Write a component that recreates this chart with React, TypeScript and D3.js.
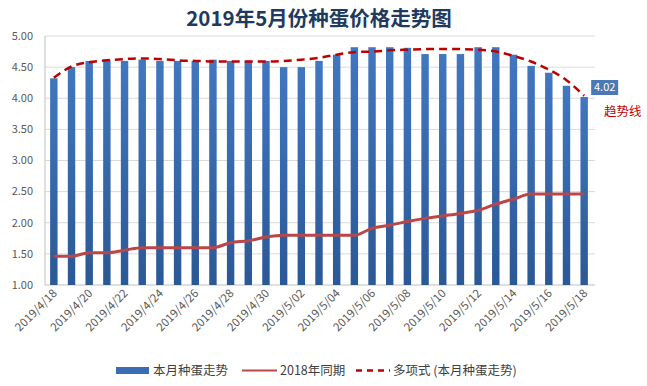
import React from "react";
import * as d3 from "d3";

const dates: string[] = [
  "2019/4/18", "2019/4/19", "2019/4/20", "2019/4/21", "2019/4/22", "2019/4/23", "2019/4/24",
  "2019/4/25", "2019/4/26", "2019/4/27", "2019/4/28", "2019/4/29", "2019/4/30",
  "2019/5/01", "2019/5/02", "2019/5/03", "2019/5/04", "2019/5/05", "2019/5/06", "2019/5/07",
  "2019/5/08", "2019/5/09", "2019/5/10", "2019/5/11", "2019/5/12", "2019/5/13", "2019/5/14",
  "2019/5/15", "2019/5/16", "2019/5/17", "2019/5/18",
];

const thisMonth: number[] = [
  4.32, 4.5, 4.6, 4.62, 4.6, 4.62, 4.6, 4.6, 4.6, 4.62, 4.6, 4.6, 4.6, 4.5, 4.5, 4.6,
  4.7, 4.82, 4.82, 4.82, 4.81, 4.71, 4.71, 4.71, 4.82, 4.82, 4.7, 4.52, 4.41, 4.2, 4.02,
];

const lastYear: number[] = [
  1.46, 1.46, 1.52, 1.52, 1.56, 1.6, 1.6, 1.6, 1.6, 1.6, 1.68, 1.71, 1.77, 1.8, 1.8, 1.8,
  1.8, 1.8, 1.91, 1.96, 2.02, 2.07, 2.11, 2.15, 2.2, 2.3, 2.38, 2.46, 2.46, 2.46, 2.46,
];

const trend: number[] = [
  4.33, 4.51, 4.58, 4.61, 4.63, 4.64, 4.63, 4.61, 4.6, 4.59, 4.59, 4.59, 4.59, 4.6, 4.62, 4.65,
  4.7, 4.74, 4.75, 4.77, 4.78, 4.79, 4.79, 4.79, 4.78, 4.75, 4.68, 4.59, 4.46, 4.29, 4.04,
];

const yTicks: number[] = [1, 1.5, 2, 2.5, 3, 3.5, 4, 4.5, 5];

const title = "2019年5月份种蛋价格走势图";
const legendLabels: string[] = ["本月种蛋走势", "2018年同期", "多项式 (本月种蛋走势)"];
const lastLabel = "4.02";
const trendNote = "趋势线";

const W = 647;
const H = 386;
const FONT = "'Noto Sans CJK SC', 'Noto Sans', sans-serif";

export default function App() {
  const x = d3
    .scaleBand<string>()
    .domain(dates)
    .range([45, 593])
    .paddingInner(0.58)
    .paddingOuter(0.29);
  const y = d3.scaleLinear().domain([1, 5]).range([285, 36]);
  const cx = (i: number) => (x(dates[i]) as number) + x.bandwidth() / 2;

  const line2018 = d3
    .line<number>()
    .x((_, i) => cx(i))
    .y((d) => y(d))
    .curve(d3.curveMonotoneX);
  const trendLine = d3
    .line<number>()
    .x((_, i) => cx(i))
    .y((d) => y(d))
    .curve(d3.curveNatural);

  const lastX = cx(dates.length - 1);

  return (
    <svg
      width={W}
      height={H}
      style={{ position: "absolute", left: 0, top: 0, background: "#fff" }}
      fontFamily={FONT}
    >
      <defs>
        <linearGradient id="barGrad" x1="0" y1="0" x2="0" y2="1">
          <stop offset="0%" stopColor="#4177c0" />
          <stop offset="100%" stopColor="#2b5896" />
        </linearGradient>
      </defs>
      <rect x={0} y={0} width={W} height={H} fill="#fff" />
      <text
        x={319}
        y={26}
        textAnchor="middle"
        fontSize={20.5}
        fontWeight="bold"
        fill="#1f3a5c"
      >
        {title}
      </text>

      {yTicks.map((t) => (
        <g key={t}>
          <line
            x1={45}
            x2={595}
            y1={y(t)}
            y2={y(t)}
            stroke={t === 1 ? "#bfbfbf" : "#d9d9d9"}
            strokeWidth={1}
          />
          <text
            x={33}
            y={y(t)}
            dy="0.35em"
            textAnchor="end"
            fontSize={11}
            fill="#595959"
          >
            {t.toFixed(2)}
          </text>
        </g>
      ))}
      <line x1={45} x2={45} y1={36} y2={285} stroke="#bfbfbf" />

      {thisMonth.map((v, i) => (
        <rect
          key={dates[i]}
          x={x(dates[i])}
          y={y(v)}
          width={x.bandwidth()}
          height={y(1) - y(v)}
          fill="url(#barGrad)"
        />
      ))}

      <path
        d={line2018(lastYear) || ""}
        fill="none"
        stroke="#b9474a"
        strokeWidth={3}
        strokeLinejoin="round"
      />
      <path
        d={trendLine(trend) || ""}
        fill="none"
        stroke="#c00000"
        strokeWidth={2.5}
        strokeDasharray="8,5"
      />

      {dates.map((d, i) =>
        i % 2 === 0 ? (
          <text
            key={d}
            transform={`translate(${cx(i) + 4},${294}) rotate(-45)`}
            textAnchor="end"
            fontSize={11.5}
            fill="#595959"
          >
            {d}
          </text>
        ) : null
      )}

      <rect x={lastX + 7} y={80} width={27} height={15} fill="#4a79b5" />
      <text
        x={lastX + 20.5}
        y={87.5}
        dy="0.35em"
        textAnchor="middle"
        fontSize={11}
        fill="#ffffff"
      >
        {lastLabel}
      </text>
      <text x={604} y={112} dy="0.35em" fontSize={12.5} fill="#c00000">
        {trendNote}
      </text>

      <g fontSize={12.5} fill="#404040">
        <rect x={116} y={367} width={33} height={7} fill="#3a6db4" />
        <text x={153} y={370.5} dy="0.35em">
          {legendLabels[0]}
        </text>
        <line x1={242} x2={277} y1={370.5} y2={370.5} stroke="#b9474a" strokeWidth={2} />
        <text x={280} y={370.5} dy="0.35em">
          {legendLabels[1]}
        </text>
        <line
          x1={356}
          x2={390}
          y1={370.5}
          y2={370.5}
          stroke="#c00000"
          strokeWidth={2.5}
          strokeDasharray="6,5"
        />
        <text x={393} y={370.5} dy="0.35em">
          {legendLabels[2]}
        </text>
      </g>
    </svg>
  );
}
